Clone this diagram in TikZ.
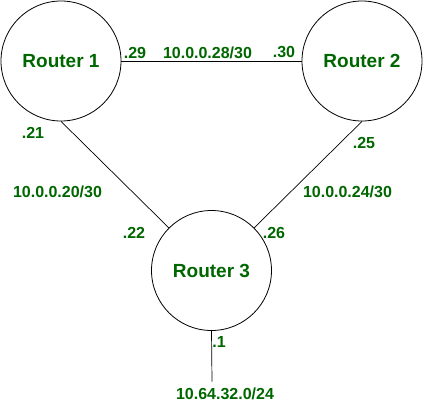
\documentclass[tikz,border=0pt]{standalone}
\usepackage{fontspec}
\setmainfont{Liberation Sans}
\definecolor{lblgreen}{RGB}{0,102,0}
\begin{document}
\begin{tikzpicture}[x=1pt,y=-1pt,
  router/.style={circle,draw=black,line width=0.8pt,minimum size=120pt,inner sep=0pt,
    text=lblgreen,font=\fontsize{19}{22}\selectfont\bfseries},
  lbl/.style={inner sep=0pt,text=lblgreen,font=\fontsize{16}{18}\selectfont\bfseries},
  link/.style={draw=black,line width=0.7pt}]
\useasboundingbox (0,0) rectangle (423,402);
\node[router] (r1) at (61,61) {Router 1};
\node[router] (r2) at (362,61) {Router 2};
\node[router] (r3) at (211.5,270.5) {Router 3};
\coordinate (lan) at (212,381.5);
\draw[link] (r1) -- (r2);
\draw[link] (r1.south) -- (r3.135);
\draw[link] (r2.south) -- (r3.45);
\draw[link] (r3.south) -- (lan);
\node[lbl] (l29) at (135,52.5) {.29};
\node[lbl] (n12) at (207.5,52.5) {10.0.0.28/30};
\node[lbl] (l30) at (284,52.5) {.30};
\node[lbl] (l21) at (33,133) {.21};
\node[lbl] (n13) at (57.5,191.7) {10.0.0.20/30};
\node[lbl] (l25) at (364,143) {.25};
\node[lbl] (n23) at (347.5,192) {10.0.0.24/30};
\node[lbl] (l22) at (134,232.5) {.22};
\node[lbl] (l26) at (274,232.5) {.26};
\node[lbl] (l1) at (219,341.5) {.1};
\node[lbl] (nlan) at (225,393.8) {10.64.32.0/24};
\end{tikzpicture}
\end{document}
